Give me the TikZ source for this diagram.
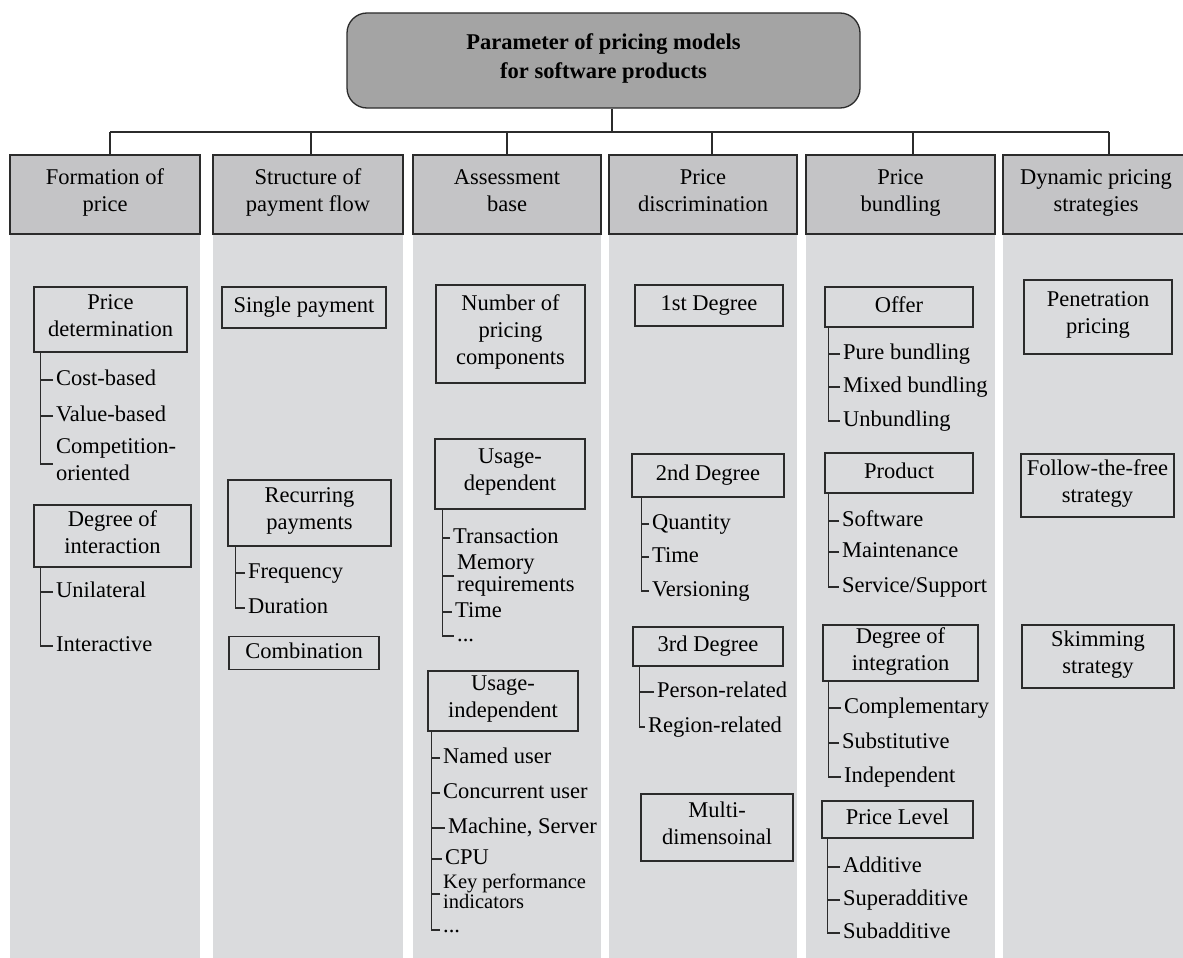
\documentclass[tikz,border=0pt]{standalone}
\usepackage{fontspec}
\setmainfont{Liberation Serif}
\usepackage{xcolor}
\definecolor{rootfill}{HTML}{A4A4A4}
\definecolor{headfill}{HTML}{C4C4C6}
\definecolor{colfill}{HTML}{DADBDD}
\definecolor{ink}{HTML}{2B2B2B}
\usepackage{tikz}
\usetikzlibrary{positioning, calc}

\begin{document}
\begin{tikzpicture}[x=1pt, y=-1pt,
  txt/.style={font=\fontsize{22.5}{27}\selectfont, text=black,
    execute at begin node=\strut, execute at end node=\strut},
  root/.style={txt, draw=ink, fill=rootfill, line width=1.3pt, rounded corners=20pt,
    minimum width=513pt, minimum height=95pt, align=center,
    font=\fontsize{22.5}{29}\selectfont\bfseries},
  head/.style={txt, draw=ink, fill=headfill, line width=1.3pt, inner sep=0pt,
    minimum width=#1, minimum height=79pt, align=center},
  subbox/.style={txt, draw=ink, line width=1.3pt, inner sep=0pt, align=center},
  leaf/.style={txt, anchor=west, inner xsep=3pt, inner ysep=0pt, align=left},
  tight/.style={font=\fontsize{22.5}{#1}\selectfont},
  link/.style={draw=ink, line width=1.2pt}
]
  \useasboundingbox (0,0) rectangle (1183,958);

  \foreach \xa/\xb in {10/200, 213/403, 413/601, 609/797, 806/995, 1003/1189}
    \fill[colfill] (\xa,234) rectangle (\xb,958);

  \node[root] (root) at (603.5,60.5) {Parameter of pricing models\\for software products};

  \node[head=190] (h1) at (105,194.5) {Formation of\\price};
  \node[head=190] (h2) at (308,194.5) {Structure of\\payment flow};
  \node[head=188] (h3) at (507,194.5) {Assessment\\base};
  \node[head=188] (h4) at (703,194.5) {Price\\discrimination};
  \node[head=189] (h5) at (900.5,194.5) {Price\\bundling};
  \node[head=186] (h6) at (1096,194.5) {Dynamic pricing\\strategies};

  \coordinate (hub) at (612,132);
  \foreach \n/\x in {1/110, 2/311, 3/507, 4/712, 5/913, 6/1109}
    \coordinate (d\n) at (\x,132);
  \draw[link] (root.south -| hub) -- (hub);
  \draw[link] (d1) -- (d6);
  \foreach \n in {1,...,6}
    \draw[link] (d\n) -- (d\n |- h\n.north);

  % formation of price
  \node[subbox, minimum width=153, minimum height=65] (pdet) at (110.5,319.5) {Price\\determination};
  \node[leaf] (cost) at (53,380) {Cost-based};
  \node[leaf] (value) at (53,416) {Value-based};
  \node[leaf] (compet) at (53,464) {Competition-\\oriented};
  \coordinate (pdetS) at ([xshift=7]pdet.south west);
  \draw[link] (pdetS) |- (compet.west);
  \foreach \i in {cost,value}
    \draw[link] (\i.west) -- (\i.west -| pdetS);

  \node[subbox, minimum width=157, minimum height=62] (dint) at (112.5,536) {Degree of\\interaction};
  \node[leaf] (unil) at (53,592) {Unilateral};
  \node[leaf] (inter) at (53,646) {Interactive};
  \coordinate (dintS) at ([xshift=7]dint.south west);
  \draw[link] (dintS) |- (inter.west);
  \draw[link] (unil.west) -- (unil.west -| dintS);

  % structure of payment flow
  \node[subbox, minimum width=164, minimum height=41] (single) at (304,307.5) {Single payment};
  \node[subbox, minimum width=163, minimum height=66] (recur) at (309.5,513) {Recurring\\payments};
  \node[leaf] (freq) at (245,573) {Frequency};
  \node[leaf] (dur) at (245,608) {Duration};
  \coordinate (recurS) at ([xshift=8]recur.south west);
  \draw[link] (recurS) |- (dur.west);
  \draw[link] (freq.west) -- (freq.west -| recurS);
  \node[subbox, minimum width=150, minimum height=33] (comb) at (304,653) {Combination};

  % assessment base
  \node[subbox, minimum width=149, minimum height=98] (npc) at (510.5,334) {Number of\\pricing\\components};
  \node[subbox, minimum width=150, minimum height=70] (udep) at (510,474) {Usage-\\dependent};
  \node[leaf] (trans) at (450,538) {Transaction};
  \node[leaf, tight=22] (memory) at (454,576) {Memory\\requirements};
  \node[leaf] (udtime) at (452,612) {Time};
  \node[leaf] (udmore) at (454,636) {...};
  \coordinate (udepS) at ([xshift=8]udep.south west);
  \draw[link] (udepS) |- (udmore.west);
  \foreach \i in {trans,memory,udtime}
    \draw[link] (\i.west) -- (\i.west -| udepS);

  \node[subbox, minimum width=150, minimum height=60] (uind) at (503,701) {Usage-\\independent};
  \node[leaf] (named) at (440,758) {Named user};
  \node[leaf] (concur) at (440,793) {Concurrent user};
  \node[leaf] (machine) at (445,828) {Machine, Server};
  \node[leaf] (cpu) at (442,859) {CPU};
  \node[leaf, font=\fontsize{20.5}{18}\selectfont, execute at end node={}] (kpi) at (440,894) {Key performance\\indicators};
  \node[leaf, tight=14] (uimore) at (440,930) {...};
  \coordinate (uindS) at ([xshift=4]uind.south west);
  \draw[link] (uindS) |- (uimore.west);
  \foreach \i in {named,concur,machine,cpu,kpi}
    \draw[link] (\i.west) -- (\i.west -| uindS);

  % price discrimination
  \node[subbox, minimum width=148, minimum height=41] (first) at (709,305.5) {1st Degree};
  \node[subbox, minimum width=152, minimum height=43] (second) at (708,475.5) {2nd Degree};
  \node[leaf] (qty) at (649,524) {Quantity};
  \node[leaf] (dgtime) at (649,557) {Time};
  \node[leaf] (vers) at (649,591) {Versioning};
  \coordinate (secondS) at ([xshift=10]second.south west);
  \draw[link] (secondS) |- (vers.west);
  \foreach \i in {qty,dgtime}
    \draw[link] (\i.west) -- (\i.west -| secondS);

  \node[subbox, minimum width=150, minimum height=39] (third) at (708,646.5) {3rd Degree};
  \node[leaf] (person) at (654,692) {Person-related};
  \node[leaf] (region) at (645,727) {Region-related};
  \coordinate (thirdS) at ([xshift=7]third.south west);
  \draw[link] (thirdS) |- (region.west);
  \draw[link] (person.west) -- (person.west -| thirdS);

  \node[subbox, minimum width=152, minimum height=67] (multi) at (717,827.5) {Multi-\\dimensoinal};

  % price bundling
  \node[subbox, minimum width=148, minimum height=40] (offer) at (899,307) {Offer};
  \node[leaf] (pure) at (840,354) {Pure bundling};
  \node[leaf] (mixed) at (840,387) {Mixed bundling};
  \node[leaf] (unb) at (840,421) {Unbundling};
  \coordinate (offerS) at ([xshift=4]offer.south west);
  \draw[link] (offerS) |- (unb.west);
  \foreach \i in {pure,mixed}
    \draw[link] (\i.west) -- (\i.west -| offerS);

  \node[subbox, minimum width=148, minimum height=40] (product) at (899,473) {Product};
  \node[leaf] (soft) at (839,521) {Software};
  \node[leaf] (maint) at (839,552) {Maintenance};
  \node[leaf] (serv) at (839,587) {Service/Support};
  \coordinate (productS) at ([xshift=4]product.south west);
  \draw[link] (productS) |- (serv.west);
  \foreach \i in {soft,maint}
    \draw[link] (\i.west) -- (\i.west -| productS);

  \node[subbox, minimum width=155, minimum height=56] (dinteg) at (900.5,653) {Degree of\\integration};
  \node[leaf] (compl) at (841,708) {Complementary};
  \node[leaf] (subst) at (839,743) {Substitutive};
  \node[leaf] (indep) at (841,777) {Independent};
  \coordinate (dintegS) at ([xshift=6]dinteg.south west);
  \draw[link] (dintegS) |- (indep.west);
  \foreach \i in {compl,subst}
    \draw[link] (\i.west) -- (\i.west -| dintegS);

  \node[subbox, minimum width=151, minimum height=37] (plevel) at (897.5,819.5) {Price Level};
  \node[leaf] (add) at (840,867) {Additive};
  \node[leaf] (super) at (840,900) {Superadditive};
  \node[leaf] (sub) at (840,933) {Subadditive};
  \coordinate (plevelS) at ([xshift=6]plevel.south west);
  \draw[link] (plevelS) |- (sub.west);
  \foreach \i in {add,super}
    \draw[link] (\i.west) -- (\i.west -| plevelS);

  % dynamic pricing strategies
  \node[subbox, minimum width=148, minimum height=74] (pen) at (1098,317) {Penetration\\pricing};
  \node[subbox, minimum width=153, minimum height=63] (ftf) at (1097.5,485.5) {Follow-the-free\\strategy};
  \node[subbox, minimum width=152, minimum height=63] (skim) at (1098,656.5) {Skimming\\strategy};
\end{tikzpicture}
\end{document}
